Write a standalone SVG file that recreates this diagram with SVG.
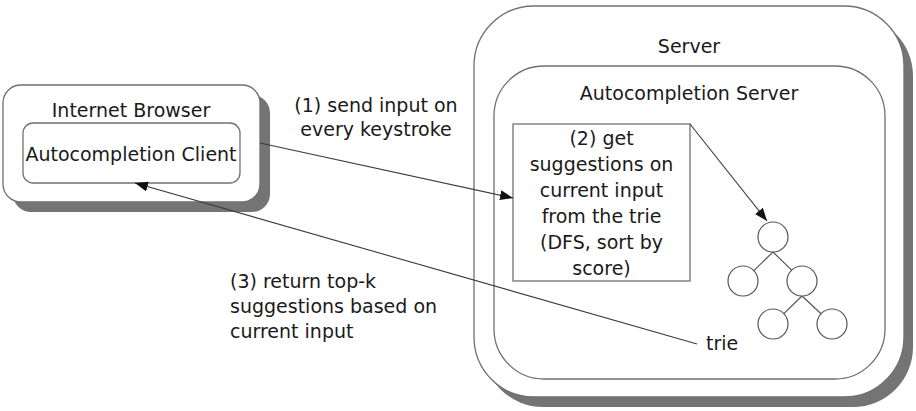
<svg xmlns="http://www.w3.org/2000/svg" width="916" height="411" viewBox="0 0 916 411">
<style>
text{font-family:"DejaVu Sans","Verdana",sans-serif;font-size:19px;fill:#1a1a1a}
.c{text-anchor:middle}
.box{fill:#fff;stroke:#707070;stroke-width:1.3}
.shadow{fill:#747474;stroke:none}
.conn{stroke:#3c3c3c;stroke-width:1.1;fill:none}
.tn{fill:#fff;stroke:#555;stroke-width:1.2}
.te{stroke:#555;stroke-width:1.2}
</style>
<defs>
<marker id="ah" viewBox="0 0 13 10" refX="13" refY="5" markerWidth="13" markerHeight="10" markerUnits="userSpaceOnUse" orient="auto">
<path d="M0,0 L13,5 L0,10 z" fill="#111"/>
</marker>
</defs>
<rect width="916" height="411" fill="#fff"/>
<g id="server">
<rect class="shadow" x="483" y="16" width="430" height="391" rx="60"/>
<rect class="box" x="474" y="6" width="430" height="391" rx="60"/>
<text class="c" x="689" y="53">Server</text>
</g>
<g id="autocompletion-server">
<rect class="box" x="494" y="66" width="391" height="313" rx="50"/>
<text class="c" x="689" y="100">Autocompletion Server</text>
</g>
<g id="browser">
<rect class="shadow" x="13" y="95" width="257" height="117" rx="18"/>
<rect class="box" x="3" y="85" width="257" height="117" rx="18"/>
<text class="c" x="131" y="117">Internet Browser</text>
</g>
<g id="client">
<rect class="box" x="23" y="123" width="217" height="60" rx="10"/>
<text class="c" x="131" y="161">Autocompletion Client</text>
</g>
<g id="step2">
<rect class="box" x="513" y="124" width="177" height="157"/>
<text class="c" x="601.5" y="145">(2) get</text>
<text class="c" x="601.5" y="171">suggestions on</text>
<text class="c" x="601.5" y="197">current input</text>
<text class="c" x="601.5" y="223">from the trie</text>
<text class="c" x="601.5" y="249">(DFS, sort by</text>
<text class="c" x="601.5" y="275">score)</text>
</g>
<g id="trie">
<line class="te" x1="773" y1="252" x2="753.8" y2="270.6"/>
<line class="te" x1="773" y1="252" x2="792.2" y2="270.6"/>
<line class="te" x1="802" y1="296" x2="783.8" y2="313.6"/>
<line class="te" x1="802" y1="296" x2="821" y2="313.8"/>
<circle class="tn" cx="773" cy="237" r="15"/>
<circle class="tn" cx="743" cy="281" r="15"/>
<circle class="tn" cx="802" cy="281" r="15"/>
<circle class="tn" cx="773" cy="324" r="15"/>
<circle class="tn" cx="832" cy="324" r="15"/>
<text x="706" y="350">trie</text>
</g>
<g id="connectors">
<line class="conn" x1="260" y1="143" x2="513" y2="198" marker-end="url(#ah)"/>
<line class="conn" x1="690" y1="124" x2="767" y2="221" marker-end="url(#ah)"/>
<line class="conn" x1="697" y1="344" x2="135" y2="183" marker-end="url(#ah)"/>
</g>
<g id="labels">
<text class="c" x="376" y="112">(1) send input on</text>
<text class="c" x="376" y="136">every keystroke</text>
<text x="230" y="288">(3) return top-k</text>
<text x="230" y="313">suggestions based on</text>
<text x="230" y="338">current input</text>
</g>
</svg>
